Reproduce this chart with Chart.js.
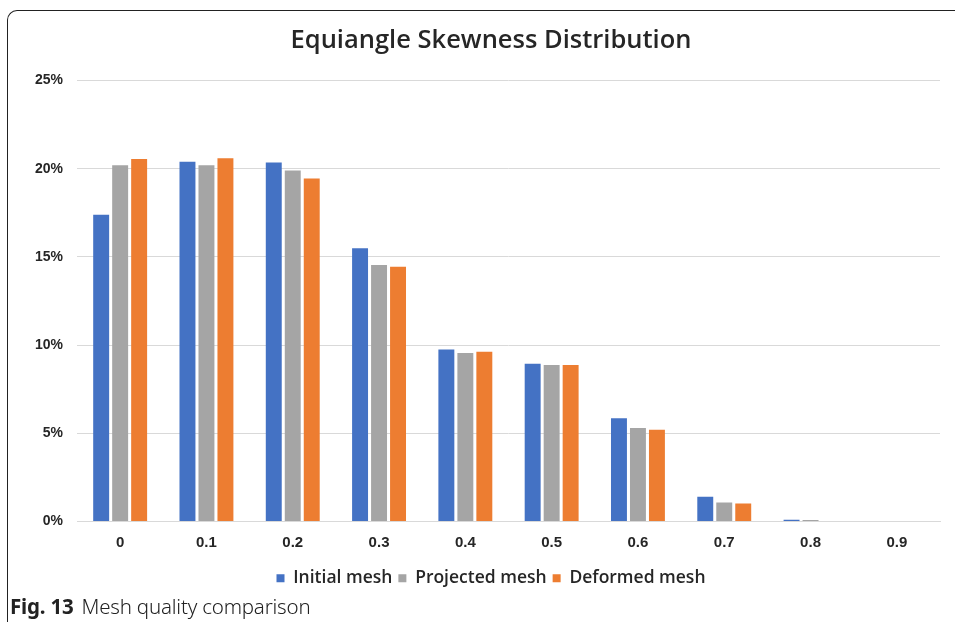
<!DOCTYPE html>
<html>
<head>
<meta charset="utf-8">
<script src="https://cdn.jsdelivr.net/npm/chart.js@4.4.0/dist/chart.umd.min.js"></script>
<style>
  body { margin: 0; background: #fff; width: 955px; height: 622px; overflow: hidden; position: relative; }
  #frame { position: absolute; left: 7px; top: 10px; width: 1000px; height: 700px;
           border-left: 1.5px solid #222; border-top: 1.5px solid #222; border-top-left-radius: 10px; }
  #wrap { position: absolute; left: 0; top: 0; width: 955px; height: 601px; }
  #caption { position: absolute; left: 10px; top: 592px; font-family: "Noto Sans", sans-serif;
             font-size: 20.5px; color: #222; letter-spacing: -0.2px; }
  #caption b { font-weight: 700; margin-right: 8px; }
  #caption span { font-weight: 300; }
</style>
</head>
<body>
<div id="frame"></div>
<div id="wrap"><canvas id="chart"></canvas></div>
<div id="caption"><b>Fig. 13</b><span>Mesh quality comparison</span></div>
<script>
var categories = ['0', '0.1', '0.2', '0.3', '0.4', '0.5', '0.6', '0.7', '0.8', '0.9'];
var initialMesh = [17.4, 20.4, 20.35, 15.5, 9.75, 8.95, 5.85, 1.4, 0.1, 0];
var projectedMesh = [20.2, 20.2, 19.9, 14.55, 9.55, 8.88, 5.3, 1.08, 0.08, 0];
var deformedMesh = [20.55, 20.6, 19.45, 14.45, 9.62, 8.88, 5.2, 1.02, 0, 0];
var yTicks = [0, 5, 10, 15, 20, 25];

var ctx = document.getElementById('chart').getContext('2d');
var chart = new Chart(ctx, {
    type: 'bar',
    data: {
        labels: categories,
        datasets: [
            { label: 'Initial mesh', data: initialMesh, backgroundColor: '#4472C4' },
            { label: 'Projected mesh', data: projectedMesh, backgroundColor: '#A5A5A5' },
            { label: 'Deformed mesh', data: deformedMesh, backgroundColor: '#ED7D31' }
        ]
    },
    options: {
        responsive: true,
        maintainAspectRatio: false,
        animation: false,
        layout: { padding: { left: 42, right: 15, top: 14, bottom: 4 } },
        datasets: { bar: { categoryPercentage: 0.66, barPercentage: 0.84 } },
        plugins: {
            title: {
                display: true,
                text: 'Equiangle Skewness Distribution',
                color: '#262626',
                font: { family: 'Open Sans', size: 25.5, weight: '600' },
                padding: { top: 11, bottom: 25 }
            },
            legend: {
                position: 'bottom',
                labels: {
                    boxWidth: 8, boxHeight: 8, padding: 6,
                    color: '#262626',
                    font: { family: 'Open Sans', size: 17.5, weight: '600' }
                }
            },
            tooltip: { enabled: false }
        },
        scales: {
            x: {
                grid: { display: false, drawTicks: false },
                border: { color: '#d9d9d9' },
                ticks: { color: '#262626', padding: 12, font: { family: 'Liberation Sans', size: 15, weight: 'bold' } }
            },
            y: {
                min: 0, max: 25,
                afterBuildTicks: function (axis) { axis.ticks = yTicks.map(function (v) { return { value: v }; }); },
                afterFit: function (axis) {
                    // narrow axis box so the title centres like the original; let labels spill left
                    axis.width = 35;
                    axis._computeLabelArea = function () { return undefined; };
                },
                grid: { color: '#d9d9d9', drawTicks: false },
                border: { display: false },
                ticks: {
                    color: '#262626', padding: 14,
                    font: { family: 'Liberation Sans', size: 14, weight: 'bold' },
                    callback: function (v) { return v + '%'; }
                }
            }
        }
    }
});
</script>
</body>
</html>
